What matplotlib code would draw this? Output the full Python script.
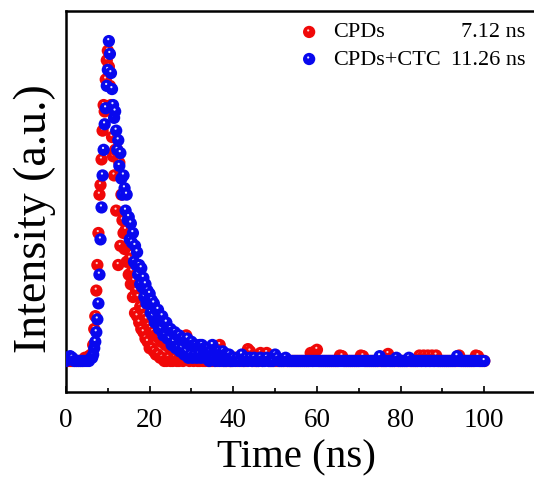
import numpy as np
import matplotlib
matplotlib.use("Agg")
from matplotlib import pyplot as plt

plt.rcParams['font.family'] = 'serif'
plt.rcParams['font.serif'] = ['Liberation Serif', 'DejaVu Serif']

# time grids (ns)
t_head = np.arange(0, 6.01, 0.5)
t_rise = np.arange(6.25, 11.76, 0.25)
t_main = np.arange(12, 40.01, 0.25)
t_tail = np.arange(40.5, 100.01, 0.5)

# normalised intensity, CPDs (red)
red_head = [0.0, 0.0, 0.0, 0.0, 0.0, 0.0, 0.0, 0.0, 0.0, 0.01, 0.01, 0.015, 0.02]
red_rise = [0.02, 0.05, 0.10, 0.14, 0.22, 0.30, 0.40, 0.52, 0.55, 0.63, 0.72, 0.80,
            0.78, 0.88, 0.94, 0.97, 0.92, 0.86, 0.80, 0.70, 0.64, 0.58, 0.66]
red_main = [0.47, 0.66, 0.30, 0.62, 0.36, 0.52, 0.44, 0.40,
            0.35, 0.41, 0.31, 0.36, 0.27, 0.32, 0.24, 0.28,
            0.20, 0.25, 0.15, 0.22, 0.14, 0.20, 0.12, 0.17,
            0.10, 0.16, 0.09, 0.14, 0.07, 0.13, 0.06, 0.11,
            0.04, 0.10, 0.04, 0.09, 0.03, 0.08, 0.02, 0.08,
            0.02, 0.07, 0.01, 0.06, 0.01, 0.06, 0.0, 0.05,
            0.0, 0.05, 0.01, 0.04, 0.0, 0.04, 0.0, 0.03,
            0.01, 0.04, 0.0, 0.03, 0.0, 0.03, 0.01, 0.04,
            0.0, 0.03, 0.01, 0.08, 0.02, 0.05, 0.0, 0.03,
            0.01, 0.02, 0.0, 0.03, 0.01, 0.02, 0.0, 0.03,
            0.0, 0.01, 0.02, 0.0, 0.03, 0.0, 0.01, 0.02,
            0.0, 0.01, 0.0, 0.02, 0.0, 0.01, 0.0, 0.02,
            0.01, 0.0, 0.01, 0.05, 0.02, 0.0, 0.01, 0.0,
            0.01, 0.0, 0.02, 0.0, 0.01, 0.0, 0.0, 0.01,
            0.0]
red_tail = [0.01, 0.0, 0.01, 0.0, 0.0, 0.0, 0.037, 0.03, 0.0, 0.0,
            0.0, 0.0, 0.025, 0.0, 0.02, 0.025, 0.0, 0.0, 0.0, 0.0,
            0.0, 0.0, 0.0, 0.0, 0.0, 0.0, 0.0, 0.0, 0.0, 0.0,
            0.0, 0.0, 0.0, 0.0, 0.0, 0.0, 0.025, 0.0, 0.03, 0.035,
            0.0, 0.0, 0.0, 0.0, 0.0, 0.0, 0.0, 0.0, 0.0, 0.0,
            0.017, 0.015, 0.0, 0.0, 0.0, 0.0, 0.0, 0.0, 0.0, 0.0,
            0.017, 0.015, 0.0, 0.0, 0.0, 0.0, 0.0, 0.0, 0.0, 0.0,
            0.0, 0.0, 0.0, 0.022, 0.0, 0.0, 0.0, 0.0, 0.0, 0.0,
            0.0, 0.0, 0.0, 0.0, 0.0, 0.0, 0.0, 0.0, 0.017, 0.0,
            0.017, 0.0, 0.017, 0.0, 0.017, 0.0, 0.017, 0.0, 0.0, 0.0,
            0.0, 0.0, 0.0, 0.0, 0.0, 0.0, 0.0, 0.017, 0.0, 0.0,
            0.0, 0.0, 0.0, 0.0, 0.0, 0.017, 0.015, 0.0, 0.0, 0.0]

# normalised intensity, CPDs+CTC (blue)
blue_head = [0.0, 0.01, 0.015, 0.01, 0.0, 0.0, 0.0, 0.0, 0.0, 0.0, 0.0, 0.0, 0.01]
blue_rise = [0.01, 0.02, 0.04, 0.06, 0.09, 0.13, 0.18, 0.27, 0.38, 0.48, 0.58, 0.66,
             0.74, 0.79, 0.86, 0.91, 1.00, 0.96, 0.90, 0.85, 0.80, 0.76, 0.78]
blue_main = [0.72, 0.66, 0.69, 0.61, 0.65, 0.57, 0.52, 0.58,
             0.54, 0.47, 0.52, 0.44, 0.45, 0.38, 0.43, 0.37,
             0.40, 0.31, 0.36, 0.30, 0.34, 0.27, 0.30, 0.24,
             0.29, 0.23, 0.26, 0.20, 0.24, 0.18, 0.22, 0.18,
             0.21, 0.15, 0.19, 0.14, 0.18, 0.12, 0.16, 0.12,
             0.16, 0.10, 0.13, 0.10, 0.14, 0.08, 0.12, 0.08,
             0.12, 0.07, 0.10, 0.07, 0.10, 0.05, 0.09, 0.06,
             0.09, 0.04, 0.08, 0.04, 0.08, 0.03, 0.07, 0.04,
             0.07, 0.02, 0.06, 0.03, 0.07, 0.01, 0.05, 0.02,
             0.06, 0.01, 0.05, 0.02, 0.05, 0.01, 0.04, 0.02,
             0.05, 0.01, 0.05, 0.02, 0.04, 0.01, 0.04, 0.02,
             0.04, 0.0, 0.03, 0.01, 0.05, 0.01, 0.03, 0.0,
             0.03, 0.01, 0.03, 0.0, 0.02, 0.01, 0.03, 0.0,
             0.02, 0.0, 0.02, 0.01, 0.02, 0.0, 0.01, 0.0,
             0.01]
blue_tail = [0.0, 0.01, 0.0, 0.02, 0.0, 0.01, 0.0, 0.01, 0.0, 0.01,
             0.0, 0.0, 0.01, 0.0, 0.0, 0.01, 0.0, 0.0, 0.0, 0.02,
             0.01, 0.0, 0.0, 0.0, 0.01, 0.0, 0.0, 0.0, 0.0, 0.0,
             0.0, 0.0, 0.0, 0.0, 0.0, 0.0, 0.0, 0.0, 0.0, 0.0,
             0.0, 0.0, 0.0, 0.0, 0.0, 0.0, 0.0, 0.0, 0.0, 0.0,
             0.0, 0.0, 0.0, 0.0, 0.0, 0.0, 0.0, 0.0, 0.0, 0.0,
             0.0, 0.0, 0.0, 0.0, 0.0, 0.0, 0.0, 0.0, 0.0, 0.015,
             0.0, 0.0, 0.0, 0.0, 0.0, 0.0, 0.0, 0.01, 0.0, 0.0,
             0.0, 0.0, 0.0, 0.01, 0.0, 0.0, 0.0, 0.0, 0.0, 0.0,
             0.0, 0.0, 0.0, 0.0, 0.0, 0.0, 0.0, 0.0, 0.0, 0.0,
             0.0, 0.0, 0.0, 0.0, 0.0, 0.0, 0.015, 0.0, 0.0, 0.0,
             0.0, 0.0, 0.0, 0.0, 0.0, 0.0, 0.0, 0.0, 0.0, 0.0]

labels = ['CPDs', 'CPDs+CTC']
lifetimes = ['7.12 ns', '11.26 ns']
colors = ['#f00808', '#0808ee']
shines = ['#ffd0d0', '#e8e8ff']

time_all = np.concatenate([t_head, t_rise, t_main, t_tail])
series = [np.concatenate([red_head, red_rise, red_main, red_tail]),
          np.concatenate([blue_head, blue_rise, blue_main, blue_tail])]

fig = plt.figure(figsize=(5.34, 4.81), dpi=100)
ax = fig.add_axes([66 / 534, 88 / 481, 481 / 534, 381 / 481])


def balls(ax, x, y, col, shine, dx, dy, big=78, small=2.5, **kw):
    # ball + small highlight, interleaved so later balls cover earlier highlights
    x = np.asarray(x, float)
    y = np.asarray(y, float)
    n = len(x)
    xs = np.empty(2 * n)
    ys = np.empty(2 * n)
    xs[0::2] = x
    ys[0::2] = y
    xs[1::2] = x - dx
    ys[1::2] = y + dy
    sizes = np.tile([big, small], n)
    fc = [col, shine] * n
    sc = ax.scatter(xs, ys, s=sizes, c=fc, edgecolors='none', **kw)
    return sc


for vals, col, shine in zip(series, colors, shines):
    balls(ax, time_all, vals, col, shine, 0.15, 0.006, zorder=3)

ax.set_xlim(0, 115)
ax.set_ylim(-0.097, 1.094)
ax.set_xticks([0, 20, 40, 60, 80, 100])
ax.set_xticks([10, 30, 50, 70, 90], minor=True)
ax.set_yticks([])
ax.tick_params(axis='x', which='major', direction='in', length=4.5, width=1.2,
               labelsize=19.5, pad=11)
ax.tick_params(axis='x', which='minor', direction='in', length=3, width=1.2)
for sp in ax.spines.values():
    sp.set_linewidth(1.8)
ax.spines['right'].set_visible(False)

ax.set_xlabel('Time (ns)', fontsize=29.5)
ax.xaxis.set_label_coords(0.48, -0.17)
ax.xaxis.label.set_va('center')
ax.set_ylabel('Intensity (a.u.)', fontsize=33)
ax.yaxis.set_label_coords(-0.064, 0.457)
ax.yaxis.label.set_va('center')

# legend drawn by hand
leg_y = [0.945, 0.874]
for k in range(2):
    balls(ax, [0.5055], [leg_y[k]], colors[k], shines[k], 0.002, 0.004,
          transform=ax.transAxes, clip_on=False, zorder=5)
    ax.text(0.555, leg_y[k], labels[k], transform=ax.transAxes, fontsize=16,
            ha='left', va='center')
    ax.text(0.955, leg_y[k], lifetimes[k], transform=ax.transAxes, fontsize=16,
            ha='right', va='center')

fig.savefig('out.png', dpi=100)
